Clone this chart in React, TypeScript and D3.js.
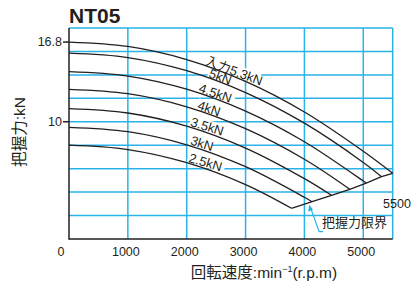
import * as d3 from "d3";

// 回転速度 (min^-1) の目盛
const xTicks = [0, 1000, 2000, 3000, 4000, 5000];
const xGrid = [1000, 2000, 3000, 4000, 5000, 5500];
const yGrid = [2, 4, 6, 8, 10, 12, 14, 16, 18];
const yTickLabels = [16.8, 10];

// 入力ごとの把握力 (kN)、1000 min^-1 ごとに読み取り
const labels = ["入力5.3kN", "5kN", "4.5kN", "4kN", "3.5kN", "3kN", "2.5kN"];
const rpmGrid = [0, 1000, 2000, 3000, 4000, 5000];
const f53 = [16.8, 16.43, 15.31, 13.44, 10.83, 7.48];
const f50 = [15.85, 15.48, 14.36, 12.49, 9.88, 6.53];
const f45 = [14.27, 13.9, 12.78, 10.91, 8.3, 4.95];
const f40 = [12.77, 12.4, 11.28, 9.41, 6.8];
const f35 = [11.12, 10.75, 9.63, 7.76, 5.15];
const f30 = [9.53, 9.16, 8.04, 6.17, 3.56];
const f25 = [8.0, 7.63, 6.51, 4.64];
// 把握力限界 (各曲線の終点)
const limitRpm = [5500, 5310, 5050, 4770, 4460, 4130, 3780];
const limitForce = [5.6, 5.32, 4.77, 4.24, 3.73, 3.18, 2.62];
// ラベルの開始位置 (min^-1)
const labelRpm = [2300, 2360, 2190, 2170, 2050, 2050, 2020];

const series = [f53, f50, f45, f40, f35, f30, f25];

const W = 416;
const H = 287;
const blue = "#29b3e8";
const ink = "#231f20";
const latin = "'Liberation Sans', Arial, sans-serif";
const cjk = "'Liberation Sans', 'Noto Sans CJK JP', sans-serif";

export default function App() {
  const x = d3.scaleLinear().domain([0, 5500]).range([69, 392.7]);
  const y = d3.scaleLinear().domain([0, 18]).range([239, 28]);

  const curves = series.map((vals, i) => {
    const pts: [number, number][] = vals.map((v, j) => [rpmGrid[j], v]);
    pts.push([limitRpm[i], limitForce[i]]);
    return pts;
  });

  const line = d3
    .line<[number, number]>()
    .x((d) => x(d[0]))
    .y((d) => y(d[1]))
    .curve(d3.curveCatmullRom);

  const limitLine = d3
    .line<[number, number]>()
    .x((d) => x(d[0]))
    .y((d) => y(d[1]));
  const limitPts: [number, number][] = limitRpm.map((r, i) => [r, limitForce[i]]);

  // ラベルの位置と角度
  const labelInfo = curves.map((pts, i) => {
    const interp = d3
      .scaleLinear()
      .domain(pts.map((p) => p[0]))
      .range(pts.map((p) => p[1]));
    const r = labelRpm[i];
    const px = x(r);
    const py = y(interp(r));
    const dx = x(r + 300) - x(r - 300);
    const dy = y(interp(r + 300)) - y(interp(r - 300));
    const ang = (Math.atan2(dy, dx) * 180) / Math.PI;
    return { px, py, ang, text: labels[i] };
  });

  const limitInterp = d3.scaleLinear().domain(limitRpm.slice().reverse()).range(limitForce.slice().reverse());
  const tipX = x(4080);
  const tipY = y(limitInterp(4080)) + 2;

  return (
    <svg width={W} height={H} style={{ position: "absolute", left: 0, top: 0, background: "#fff" }}>
      {/* grid */}
      <g stroke={blue} strokeWidth={1.5}>
        {yGrid.map((v) => (
          <line key={"h" + v} x1={x(0)} x2={x(5500)} y1={y(v)} y2={y(v)} />
        ))}
        {xGrid.map((v) => (
          <line key={"v" + v} x1={x(v)} x2={x(v)} y1={y(18)} y2={y(0)} />
        ))}
      </g>

      {/* label backgrounds */}
      {labelInfo.map((l, i) => (
        <g key={"bg" + i} transform={`translate(${l.px},${l.py - 1.5}) rotate(${l.ang})`}>
          <rect x={-1} y={-11} width={i === 0 ? 58 : l.text.length * 7.6} height={11.5} fill="#fff" />
        </g>
      ))}

      {/* curves */}
      <g fill="none" stroke={ink} strokeWidth={1.3}>
        {curves.map((pts, i) => (
          <path key={"c" + i} d={line(pts) || ""} />
        ))}
        <path d={limitLine(limitPts) || ""} />
      </g>

      {/* curve labels */}
      {labelInfo.map((l, i) => (
        <text
          key={"t" + i}
          transform={`translate(${l.px},${l.py - 1.5}) rotate(${l.ang})`}
          fontFamily={cjk}
          fontSize={13}
          fill={ink}
        >
          {l.text}
        </text>
      ))}

      {/* axes */}
      <g stroke={ink} strokeWidth={1.5}>
        <line x1={x(0)} x2={x(0)} y1={y(18)} y2={y(0) + 0.75} />
        <line x1={x(0)} x2={x(5500)} y1={y(0)} y2={y(0)} />
        {yTickLabels.map((v) => (
          <line key={"yt" + v} x1={x(0) - 6} x2={x(0)} y1={y(v)} y2={y(v)} />
        ))}
      </g>
      {yTickLabels.map((v) => (
        <text
          key={"yl" + v}
          x={x(0) - 7}
          y={y(v)}
          dy="0.35em"
          textAnchor="end"
          fontFamily={latin}
          fontSize={12.5}
          fill={ink}
        >
          {v}
        </text>
      ))}
      {xTicks.map((v) => (
        <text
          key={"xl" + v}
          x={v === 0 ? x(v) - 8 : x(v) - 2}
          y={256}
          textAnchor="middle"
          fontFamily={latin}
          fontSize={12.5}
          fill={ink}
        >
          {v}
        </text>
      ))}
      <text x={397} y={208} textAnchor="middle" fontFamily={latin} fontSize={12.5} fill={ink}>
        5500
      </text>

      {/* limit annotation */}
      <g stroke={blue} strokeWidth={1.2} fill="none">
        <polyline points={`${tipX + 1},${tipY + 2} ${tipX + 10},${tipY + 27} ${tipX + 14},${tipY + 27}`} />
      </g>
      <path d={`M${tipX},${tipY} l-1,7 l5,-2 z`} fill={blue} />
      <text x={322} y={227} fontFamily={cjk} fontSize={13} fill={ink}>
        把握力限界
      </text>

      {/* titles */}
      <text x={69} y={23} fontFamily={latin} fontWeight="bold" fontSize={21} fill={ink}>
        NT05
      </text>
      <text
        transform={`translate(19,132) rotate(-90)`}
        textAnchor="middle"
        dominantBaseline="central"
        fontFamily={cjk}
        fontSize={15.5}
        fill={ink}
      >
        把握力:kN
      </text>
      <text x={264} y={278} textAnchor="middle" fontFamily={cjk} fontSize={15.5} fill={ink}>
        回転速度:min
        <tspan fontSize={9} dy={-6}>−1</tspan>
        <tspan dy={6}>(r.p.m)</tspan>
      </text>
    </svg>
  );
}
